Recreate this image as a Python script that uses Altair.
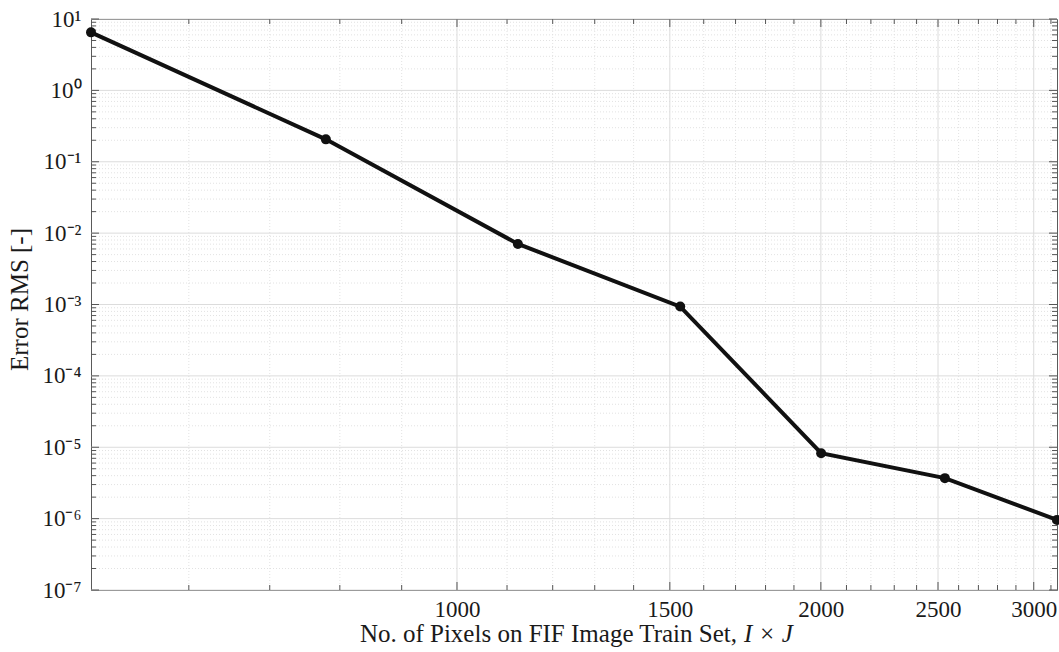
import altair as alt
import pandas as pd

# ---- data ----
pixels = [498, 779, 1123, 1530, 2001, 2533, 3136]
rms = [6.5, 0.206, 0.00706, 0.000935, 8.26e-6, 3.69e-6, 9.6e-7]

x_ticks = [1000, 1500, 2000, 2500, 3000]
x_minor = [600, 700, 800, 900, 1100, 1200, 1300, 1400, 1600, 1700, 1800, 1900,
           2100, 2200, 2300, 2400, 2600, 2700, 2800, 2900, 3100]
y_ticks = [1e-7, 1e-6, 1e-5, 1e-4, 1e-3, 1e-2, 1e-1, 1e0, 1e1]
y_labels = ['10⁻⁷', '10⁻⁶', '10⁻⁵', '10⁻⁴', '10⁻³', '10⁻²', '10⁻¹', '10⁰', '10¹']
y_minor = [k * 10.0 ** e for e in range(-7, 1) for k in range(2, 10)]

x_title_main = "No. of Pixels on FIF Image Train Set,"
x_title_math = "I × J"
y_title = "Error RMS [-]"

W, H = 966, 571
FONT = "Liberation Serif"
FS_LAB = 23
FS_TIT = 25

df = pd.DataFrame({"x": pixels, "y": rms})
df_xmaj = pd.DataFrame({"v": x_ticks})
df_xmin = pd.DataFrame({"v": x_minor})
df_ymaj = pd.DataFrame({"v": y_ticks})
df_ymin = pd.DataFrame({"v": y_minor})

xscale = alt.Scale(type="log", domain=[pixels[0], pixels[-1]], nice=False)
yscale = alt.Scale(type="log", domain=[y_ticks[0], y_ticks[-1]], nice=False)

label_arr = "[" + ",".join("'%s'" % s for s in y_labels) + "]"
xaxis = alt.Axis(values=x_ticks, format="d", title=None, grid=False, ticks=False,
                 domain=False, labelPadding=8, labelFlush=False, labelOverlap=False)
yaxis = alt.Axis(values=y_ticks, title=None, grid=False, ticks=False, domain=False,
                 labelPadding=10, labelOverlap=False,
                 labelExpr=label_arr + "[round(log(datum.value)/LN10)+7]")

X = lambda f: alt.X(f, type="quantitative", scale=xscale, axis=xaxis)
Y = lambda f: alt.Y(f, type="quantitative", scale=yscale, axis=yaxis)

GRID_MAJ = "#dcdcdc"
GRID_MIN = "#dfdfdf"
TICK = "#555555"

gx_min = alt.Chart(df_xmin).mark_rule(color=GRID_MIN, strokeWidth=0.9, strokeDash=[1, 2]).encode(x=X("v"))
gy_min = alt.Chart(df_ymin).mark_rule(color=GRID_MIN, strokeWidth=0.9, strokeDash=[1, 2]).encode(y=Y("v"))
gx_maj = alt.Chart(df_xmaj).mark_rule(color=GRID_MAJ, strokeWidth=1).encode(x=X("v"))
gy_maj = alt.Chart(df_ymaj).mark_rule(color=GRID_MAJ, strokeWidth=1).encode(y=Y("v"))

def xticks(d, L):
    b = alt.Chart(d).mark_rule(color=TICK, strokeWidth=1).encode(x=X("v"), y=alt.value(H), y2=alt.value(H - L))
    t = alt.Chart(d).mark_rule(color=TICK, strokeWidth=1).encode(x=X("v"), y=alt.value(0), y2=alt.value(L))
    return [b, t]

def yticks(d, L):
    l = alt.Chart(d).mark_rule(color=TICK, strokeWidth=1).encode(y=Y("v"), x=alt.value(0), x2=alt.value(L))
    r = alt.Chart(d).mark_rule(color=TICK, strokeWidth=1).encode(y=Y("v"), x=alt.value(W), x2=alt.value(W - L))
    return [l, r]

ticks = xticks(df_xmaj, 8) + xticks(df_xmin, 5) + yticks(df_ymaj, 8) + yticks(df_ymin, 5)

line = alt.Chart(df).mark_line(color="#111111", strokeWidth=4).encode(x=X("x"), y=Y("y"))
pts = alt.Chart(df).mark_circle(color="#111111", size=100, opacity=1).encode(x=X("x"), y=Y("y"))

X0 = 646
t1 = alt.Chart(df_xmaj.head(1)).mark_text(text=x_title_main, font=FONT, fontSize=FS_TIT, color="#1a1a1a",
                                          align="right", baseline="middle").encode(
    x=alt.value(X0), y=alt.value(H + 44))
t2 = alt.Chart(df_xmaj.head(1)).mark_text(text=x_title_math, font=FONT, fontSize=FS_TIT, fontStyle="italic",
                                          color="#1a1a1a", align="left", baseline="middle").encode(
    x=alt.value(X0 + 7), y=alt.value(H + 44))
t3 = alt.Chart(df_xmaj.head(1)).mark_text(text=y_title, font=FONT, fontSize=FS_TIT, color="#1a1a1a",
                                          angle=270, align="center", baseline="middle").encode(
    x=alt.value(-71), y=alt.value(H / 2 - 5))

chart = alt.layer(gx_min, gy_min, gx_maj, gy_maj, *ticks, line, pts, t1, t2, t3).properties(
    width=W, height=H,
    padding={"left": 91, "top": 19, "right": 2, "bottom": 62},
    autosize=alt.AutoSizeParams(type="none"),
    background="white",
).configure_view(stroke="#5a5a5a", strokeWidth=1).configure_axis(
    labelFont=FONT, labelFontSize=FS_LAB, labelColor="#1a1a1a"
)

chart.save("out.html", embed_options={"renderer": "svg", "actions": False})
